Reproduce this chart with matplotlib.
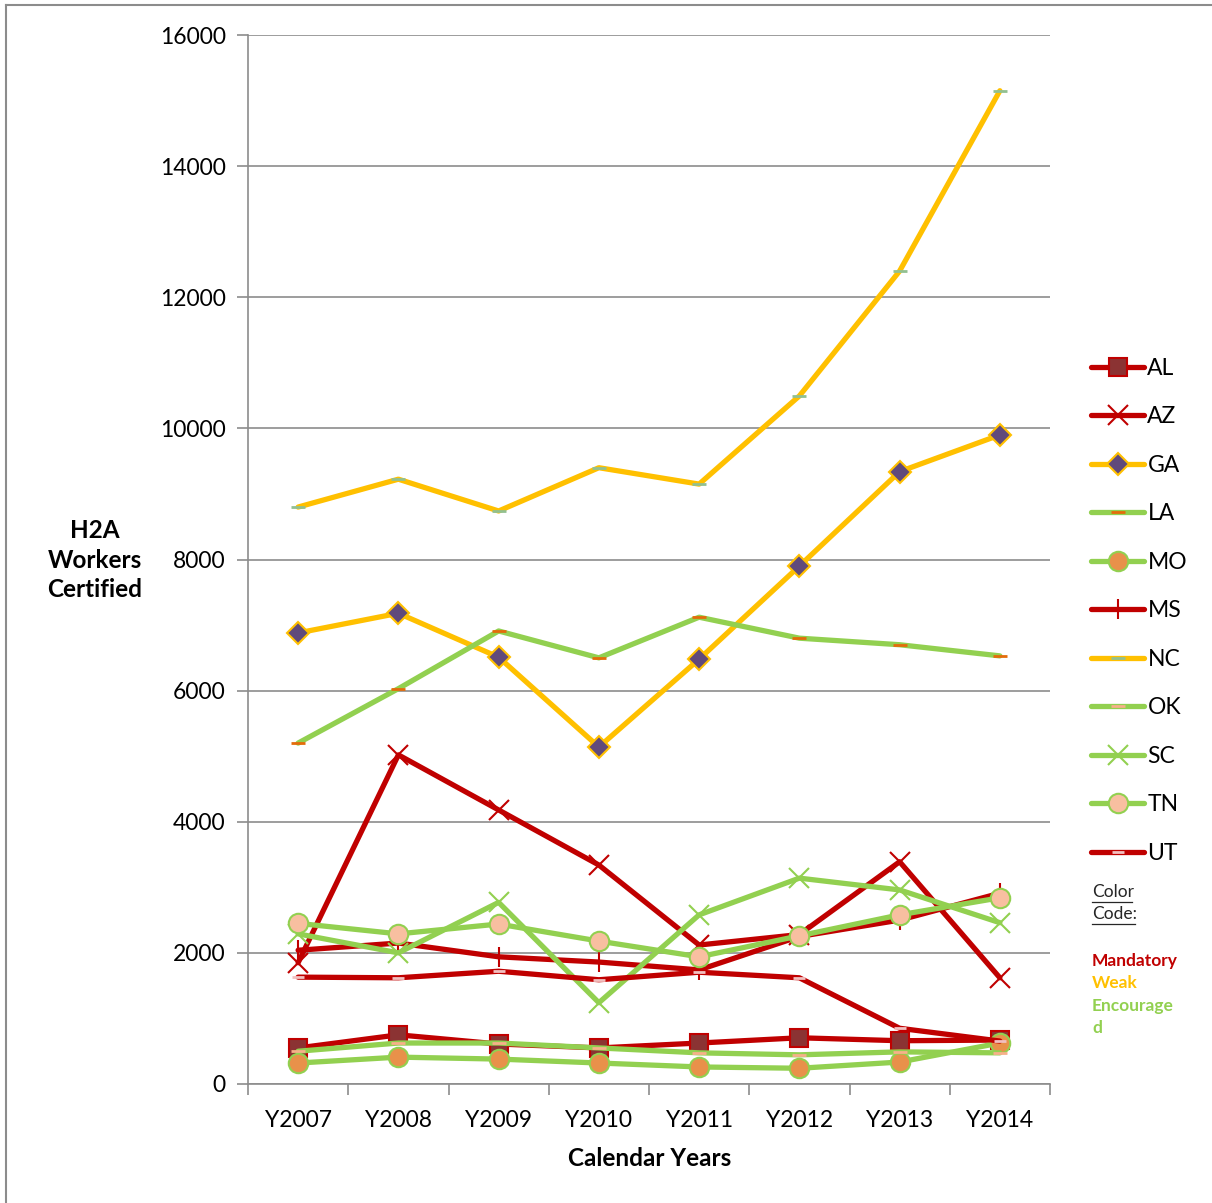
import matplotlib.pyplot as plt
from matplotlib.lines import Line2D

years = ['Y2007', 'Y2008', 'Y2009', 'Y2010', 'Y2011', 'Y2012', 'Y2013', 'Y2014']

al = [550, 750, 610, 550, 625, 705, 660, 670]
az = [1850, 5020, 4180, 3340, 2120, 2280, 3390, 1620]
ga = [6880, 7180, 6510, 5140, 6480, 7900, 9340, 9900]
la = [5200, 6030, 6910, 6500, 7120, 6800, 6700, 6530]
mo = [320, 410, 380, 320, 260, 240, 335, 625]
ms = [2040, 2150, 1940, 1860, 1740, 2250, 2500, 2910]
nc = [8800, 9225, 8740, 9400, 9150, 10495, 12400, 15150]
ok = [500, 625, 625, 550, 475, 445, 490, 475]
sc = [2290, 2000, 2770, 1240, 2580, 3140, 2960, 2460]
tn = [2450, 2290, 2440, 2180, 1940, 2260, 2580, 2840]
ut = [1630, 1620, 1720, 1590, 1705, 1620, 850, 655]

RED = '#C00000'
YEL = '#FFC000'
GRN = '#92D050'

plt.rcParams['font.family'] = ['Lato', 'DejaVu Sans']

fig = plt.figure(figsize=(12.12, 12.03), dpi=100)
ax = fig.add_axes([248 / 1212, 1 - 1084 / 1203, (1050 - 248) / 1212, (1084 - 35) / 1203])

x = list(range(len(years)))
lw = 3.8

# (label, values, line colour, marker, face, edge, size, mew)
series = [
    ('AL', al, RED, 's', '#8B3333', RED, 13, 1.5),
    ('AZ', az, RED, 'x', RED, RED, 15, 1.5),
    ('GA', ga, YEL, 'D', '#604A7B', YEL, 11, 1.5),
    ('LA', la, GRN, '_', '#E46C0A', '#E46C0A', 10, 2),
    ('MO', mo, GRN, 'o', '#E8914A', GRN, 14, 1.5),
    ('MS', ms, RED, '|', RED, RED, 15, 1.5),
    ('NC', nc, YEL, '_', '#92C090', '#92C090', 10, 2),
    ('OK', ok, GRN, '_', '#F7B08A', '#F7B08A', 10, 2),
    ('SC', sc, GRN, 'x', GRN, GRN, 15, 1.5),
    ('TN', tn, GRN, 'o', '#F8BFA0', GRN, 14, 1.5),
    ('UT', ut, RED, '_', '#F2C0C0', '#F2C0C0', 8, 2),
]

for i, (name, vals, col, mk, fc, ec, ms_, mew) in enumerate(series):
    ax.plot(x, vals, color=col, linewidth=lw, marker=mk,
            markerfacecolor=fc, markeredgecolor=ec, markersize=ms_,
            markeredgewidth=mew, label=name, zorder=3 + i,
            solid_capstyle='round')

ax.set_xlim(-0.5, len(years) - 0.5)
ax.set_ylim(0, 16000)
ax.set_yticks(range(0, 16001, 2000))
ax.set_xticks(x)
ax.set_xticklabels(years)
ax.set_xticks([i - 0.5 for i in range(len(years) + 1)], minor=True)
ax.tick_params(axis='x', which='major', length=0, pad=19, labelsize=16.5)
ax.tick_params(axis='x', which='minor', length=8, color='#8C8C8C', width=1.2)
ax.tick_params(axis='y', length=8, color='#8C8C8C', width=1.2, pad=8,
               labelsize=16.5)
ax.grid(axis='y', color='#8C8C8C', linewidth=1.2)
ax.set_axisbelow(True)
for s in ['top', 'right']:
    ax.spines[s].set_visible(False)
for s in ['left', 'bottom']:
    ax.spines[s].set_color('#8C8C8C')
    ax.spines[s].set_linewidth(1.2)

fig.text(95 / 1212, 1 - 560 / 1203, 'H2A\nWorkers\nCertified', ha='center',
         va='center', fontsize=17.5, fontweight='bold', linespacing=1.35)
fig.text(650 / 1212, 1 - 1158 / 1203, 'Calendar Years', ha='center',
         va='center', fontsize=17.5, fontweight='bold')

leg = ax.legend(loc='upper left', bbox_to_anchor=(1.04, 0.701),
                frameon=False, fontsize=16.5, handlelength=2.3,
                handletextpad=0.15, labelspacing=1.2, borderaxespad=0)

# colour code note
fig.text(1092 / 1212, 1 - 892 / 1203, 'Color', fontsize=12.5, color='#262626',
         va='center')
fig.text(1092 / 1212, 1 - 914 / 1203, 'Code:', fontsize=12.5, color='#262626',
         va='center')
for yy, x2 in [(902, 1132), (924, 1135)]:
    fig.add_artist(Line2D([1092 / 1212, x2 / 1212], [1 - yy / 1203] * 2,
                          color='#262626', linewidth=0.9))
for yy, txt, col in [(961, 'Mandatory', RED), (983, 'Weak', YEL),
                     (1006, 'Encourage', GRN), (1028, 'd', GRN)]:
    fig.text(1092 / 1212, 1 - yy / 1203, txt, fontsize=12.5, color=col,
             fontweight='bold', va='center')

# outer frame
fig.add_artist(Line2D([6 / 1212, 6 / 1212], [0, 1 - 5 / 1203],
                      color='#8C8C8C', linewidth=1.5))
fig.add_artist(Line2D([6 / 1212, 1], [1 - 5 / 1203, 1 - 5 / 1203],
                      color='#8C8C8C', linewidth=1.5))

fig.savefig('out.png', dpi=100)
